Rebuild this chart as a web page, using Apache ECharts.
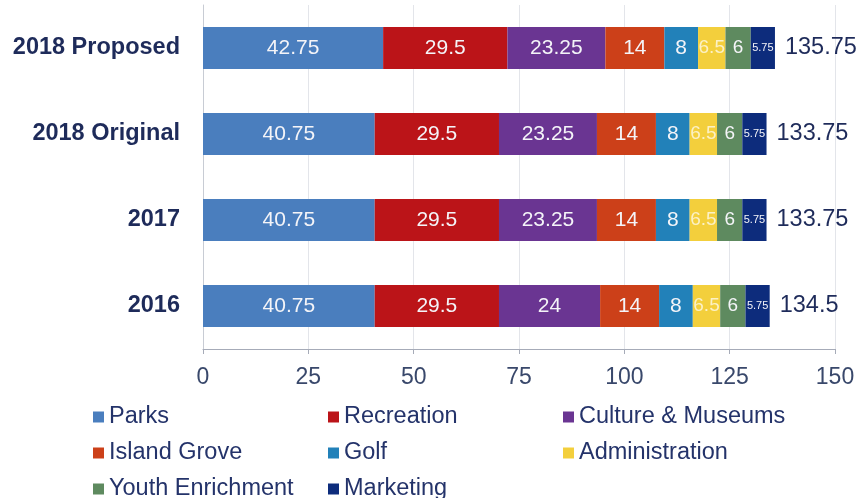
<!DOCTYPE html>
<html>
<head>
<meta charset="utf-8">
<script src="https://cdn.jsdelivr.net/npm/echarts@6/dist/echarts.min.js"></script>
<style>
  html, body { margin: 0; padding: 0; background: #ffffff; }
  #chart { width: 862px; height: 498px; }
</style>
</head>
<body>
<div id="chart"></div>
<script>
// Budget by division (millions), listed bottom to top on the chart
const categories = ['2016', '2017', '2018 Original', '2018 Proposed'];

const parks            = [40.75, 40.75, 40.75, 42.75];
const recreation       = [29.5, 29.5, 29.5, 29.5];
const cultureMuseums   = [24, 23.25, 23.25, 23.25];
const islandGrove      = [14, 14, 14, 14];
const golf             = [8, 8, 8, 8];
const administration   = [6.5, 6.5, 6.5, 6.5];
const youthEnrichment  = [6, 6, 6, 6];
const marketing        = [5.75, 5.75, 5.75, 5.75];

const xTicks = [0, 25, 50, 75, 100, 125, 150];

const seriesDefs = [
  { name: 'Parks', data: parks, color: '#4a7ebe' },
  { name: 'Recreation', data: recreation, color: '#bb1418' },
  { name: 'Culture & Museums', data: cultureMuseums, color: '#6a3592' },
  { name: 'Island Grove', data: islandGrove, color: '#cc4019' },
  { name: 'Golf', data: golf, color: '#2281b9' },
  { name: 'Administration', data: administration, color: '#f3cf3c' },
  { name: 'Youth Enrichment', data: youthEnrichment, color: '#5e8a5f' },
  { name: 'Marketing', data: marketing, color: '#0d2c7c' }
];

// Row totals, shown at the right end of each stack
const totals = categories.map((_, i) => seriesDefs.reduce((s, d) => s + d.data[i], 0));

const chart = echarts.init(document.getElementById('chart'), null, { renderer: 'canvas' });

const labelSize = { 'Marketing': 11, 'Administration': 19, 'Youth Enrichment': 19 };

const series = seriesDefs.map(d => ({
  name: d.name,
  type: 'bar',
  stack: 'total',
  barWidth: 42,
  data: d.data,
  itemStyle: { color: d.color },
  label: {
    show: true,
    position: 'inside',
    color: d.name === 'Administration' ? 'rgba(255,255,255,0.7)' : '#f4f4f8',
    fontFamily: 'Liberation Sans',
    fontSize: labelSize[d.name] || 21,
    formatter: p => String(p.value)
  }
}));

// Zero-width stack cap carrying the total label
series.push({
  name: 'Total',
  type: 'bar',
  stack: 'total',
  barWidth: 42,
  data: categories.map(() => 0),
  itemStyle: { color: 'transparent' },
  label: {
    show: true,
    position: 'right',
    distance: 10,
    color: '#1e2b5a',
    fontFamily: 'Liberation Sans',
    fontSize: 23.5,
    formatter: p => String(totals[p.dataIndex])
  }
});

const legendText = { color: '#24336a', fontFamily: 'Liberation Sans', fontSize: 23.5, lineHeight: 23 };
const legendCommon = {
  orient: 'vertical',
  itemWidth: 11,
  itemHeight: 11,
  itemGap: 12,
  padding: 0,
  height: 140,
  icon: 'rect',
  textStyle: legendText,
  selectedMode: false
};

chart.setOption({
  animation: false,
  backgroundColor: '#ffffff',
  grid: { left: 203, right: 27, top: 5, bottom: 149, containLabel: false },
  xAxis: {
    type: 'value',
    min: xTicks[0],
    max: xTicks[xTicks.length - 1],
    interval: xTicks[1] - xTicks[0],
    axisLine: { show: true, lineStyle: { color: '#a6abb8', width: 1 } },
    axisTick: { show: true, length: 5, lineStyle: { color: '#a6abb8' } },
    axisLabel: { color: '#39486b', fontFamily: 'Liberation Sans', fontSize: 23, margin: 17 },
    splitLine: { show: true, lineStyle: { color: '#e3e5ea', width: 1 } }
  },
  yAxis: {
    type: 'category',
    data: categories,
    axisLine: { show: true, lineStyle: { color: '#c8ccd4' } },
    axisTick: { show: false },
    axisLabel: { color: '#1e2b5a', fontFamily: 'Liberation Sans', fontWeight: 'bold', fontSize: 23.5, margin: 23 }
  },
  legend: [
    Object.assign({ left: 93, top: 405, data: ['Parks', 'Island Grove', 'Youth Enrichment'] }, legendCommon),
    Object.assign({ left: 328, top: 405, data: ['Recreation', 'Golf', 'Marketing'] }, legendCommon),
    Object.assign({ left: 563, top: 405, data: ['Culture & Museums', 'Administration'] }, legendCommon)
  ],
  series: series
});
</script>
</body>
</html>
